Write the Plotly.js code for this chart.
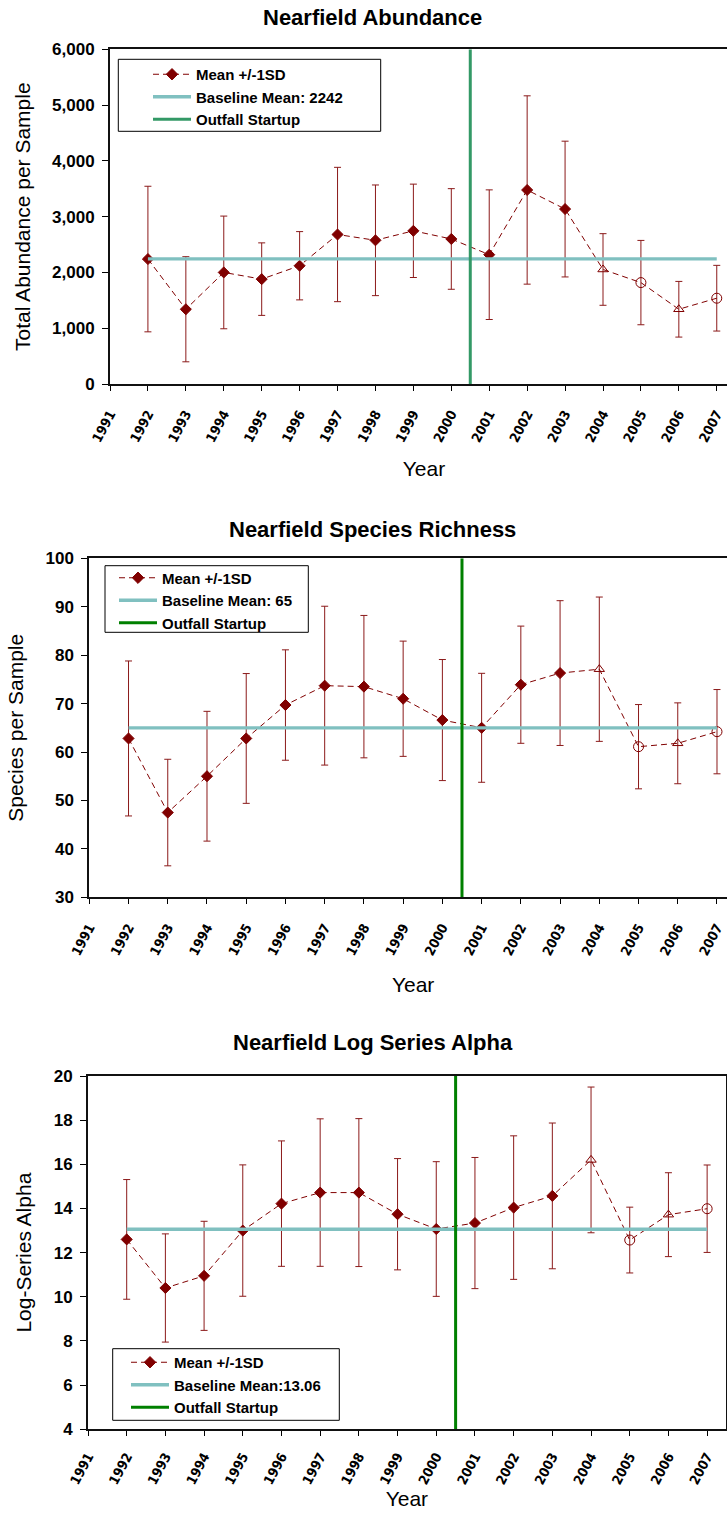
<!DOCTYPE html>
<html>
<head>
<meta charset="utf-8">
<script src="https://cdn.plot.ly/plotly-3.0.1.min.js"></script>
<style>
  html, body { margin: 0; padding: 0; overflow: hidden; background: #fff; }
  #chart { width: 740px; height: 1514px; }
</style>
</head>
<body>
<div id="chart"></div>
<script>
// ---- Data -----------------------------------------------------------------
const years = [1992, 1993, 1994, 1995, 1996, 1997, 1998, 1999, 2000,
               2001, 2002, 2003, 2004, 2005, 2006, 2007];
const yearTicks = [1991, 1992, 1993, 1994, 1995, 1996, 1997, 1998, 1999,
                   2000, 2001, 2002, 2003, 2004, 2005, 2006, 2007];
const yearTickText = yearTicks.map(String);
const outfallStartup = 2000.5;

// Total abundance per sample (mean and 1 SD)
const abundanceMean = [2240, 1340, 2000, 1880, 2120, 2680, 2576, 2746, 2600,
                       2318, 3478, 3136, 2053, 1818, 1340, 1538];
const abundanceSD   = [1305, 942, 1010, 650, 612, 1204, 992, 837, 902,
                       1162, 1688, 1217, 642, 756, 499, 589];
const abundanceBaseline = 2242;

// Species per sample
const richnessMean = [62.8, 47.5, 55.0, 62.8, 69.7, 73.7, 73.5, 71.0, 66.6,
                      65.0, 73.9, 76.3, 77.1, 61.1, 61.8, 64.2];
const richnessSD   = [16.0, 11.0, 13.4, 13.4, 11.4, 16.4, 14.7, 11.9, 12.5,
                      11.25, 12.1, 14.95, 14.9, 8.7, 8.35, 8.7];
const richnessBaseline = 65;

// Log-series alpha
const alphaMean = [12.6, 10.4, 10.95, 13.0, 14.22, 14.72, 14.72, 13.74, 13.07,
                   13.34, 14.04, 14.57, 16.2, 12.57, 13.72, 13.99];
const alphaSD   = [2.71, 2.45, 2.47, 2.975, 2.84, 3.34, 3.35, 2.52, 3.05,
                   2.97, 3.25, 3.3, 3.3, 1.49, 1.9, 1.98];
const alphaBaseline = 13.06;

// ---- Styling --------------------------------------------------------------
const W = 740, H = 1514;
const px = v => v / W;
const py = v => 1 - v / H;

const FONT = 'Liberation Sans, Arial, Helvetica, sans-serif';
const NARROW = 'Liberation Sans Narrow, Arial Narrow, DejaVu Sans Condensed, Liberation Sans, sans-serif';
const DARK_RED = '#800000';
const ERR_RED = '#8b1a1a';
const BASE_TEAL = '#80c0c0';

// Later surveys are drawn with open symbols
const laterSymbols = {2004: 'triangle-up-open', 2005: 'circle-open',
                      2006: 'triangle-up-open', 2007: 'circle-open'};
const symbols = years.map(y => laterSymbols[y] || 'diamond');
const sizes = symbols.map(s => s === 'diamond' ? 8.5 : (s === 'circle-open' ? 10 : 9));

function meanTrace(mean, sd, axisId, legendId) {
  return {
    type: 'scatter', mode: 'lines+markers',
    x: years, y: mean, name: 'Mean +/-1SD',
    xaxis: 'x' + axisId, yaxis: 'y' + axisId, legend: legendId,
    line: {color: DARK_RED, width: 1, dash: '6px,4px'},
    marker: {symbol: symbols, size: sizes, color: DARK_RED, opacity: 1,
             line: {color: DARK_RED, width: 1}},
    error_y: {type: 'data', array: sd, visible: true,
              color: ERR_RED, thickness: 1, width: 3.5},
    hoverinfo: 'skip'
  };
}
function baselineTrace(value, label, axisId, legendId) {
  return {
    type: 'scatter', mode: 'lines',
    x: [years[0], years[years.length - 1]], y: [value, value],
    name: label, xaxis: 'x' + axisId, yaxis: 'y' + axisId, legend: legendId,
    line: {color: BASE_TEAL, width: 3.3}, hoverinfo: 'skip'
  };
}
function outfallTrace(yRange, color, axisId, legendId) {
  return {
    type: 'scatter', mode: 'lines',
    x: [outfallStartup, outfallStartup], y: yRange,
    name: 'Outfall Startup', xaxis: 'x' + axisId, yaxis: 'y' + axisId,
    legend: legendId, line: {color: color, width: 3}, hoverinfo: 'skip'
  };
}

const abundRange = [0, 6000], richRange = [30, 100], alphaRange = [4, 20];

const data = [
  meanTrace(abundanceMean, abundanceSD, '', 'legend'),
  baselineTrace(abundanceBaseline, 'Baseline Mean: ' + abundanceBaseline, '', 'legend'),
  outfallTrace(abundRange, '#339966', '', 'legend'),
  meanTrace(richnessMean, richnessSD, '2', 'legend2'),
  baselineTrace(richnessBaseline, 'Baseline Mean: ' + richnessBaseline, '2', 'legend2'),
  outfallTrace(richRange, '#008000', '2', 'legend2'),
  meanTrace(alphaMean, alphaSD, '3', 'legend3'),
  baselineTrace(alphaBaseline, 'Baseline Mean:' + alphaBaseline, '3', 'legend3'),
  outfallTrace(alphaRange, '#008000', '3', 'legend3')
];

function xAxis(domain, right, anchor, standoff, labelGap) {
  return {
    domain: domain, range: [1991, right], anchor: anchor,
    tickmode: 'array', tickvals: yearTicks, ticktext: yearTickText,
    tickangle: -62, ticks: 'outside', ticklen: 5, tickwidth: 1, tickcolor: '#000',
    ticklabelstandoff: labelGap,
    tickfont: {family: NARROW, size: 13.5, color: '#000', weight: 'bold'},
    showline: true, linecolor: '#111', linewidth: 2, mirror: true,
    showgrid: false, zeroline: false, automargin: false,
    title: {text: 'Year', standoff: standoff,
            font: {family: FONT, size: 21, color: '#000'}}
  };
}
function yAxis(domain, range, dtick, anchor, title, fmt, standoff) {
  return {
    domain: domain, range: range, anchor: anchor, dtick: dtick, tick0: range[0],
    tickformat: fmt, ticks: 'outside', ticklen: 6, tickwidth: 1, tickcolor: '#000',
    ticklabelstandoff: 4,
    tickfont: {family: FONT, size: 17, color: '#000', weight: 'bold'},
    showline: true, linecolor: '#111', linewidth: 2, mirror: true,
    showgrid: false, zeroline: false, automargin: false,
    title: {text: title, standoff: standoff,
            font: {family: FONT, size: 21, color: '#000'}}
  };
}
function legendBox(x, y) {
  return {x: px(x), y: py(y), xanchor: 'left', yanchor: 'top',
          bgcolor: 'rgba(0,0,0,0)', borderwidth: 0, itemwidth: 38,
          tracegroupgap: 0,
          font: {family: FONT, size: 15, color: '#000', weight: 'bold'}};
}
function frame(x0, y0, x1, y1) {
  return {type: 'rect', xref: 'paper', yref: 'paper', layer: 'below',
          x0: px(x0), x1: px(x1), y0: py(y1), y1: py(y0),
          line: {color: '#000', width: 1}, fillcolor: '#fff'};
}
function chartTitle(text, y) {
  return {text: '<b>' + text + '</b>', xref: 'paper', yref: 'paper',
          x: px(373), y: py(y), xanchor: 'center', yanchor: 'middle',
          showarrow: false, font: {family: FONT, size: 22, color: '#000'}};
}

const layout = {
  width: W, height: H,
  margin: {l: 0, r: 0, t: 0, b: 0},
  paper_bgcolor: '#fff', plot_bgcolor: '#fff',
  showlegend: true,
  font: {family: FONT, color: '#000'},
  xaxis:  xAxis([px(110), px(738)], 2007.56, 'y', 17, 10),
  yaxis:  yAxis([py(384), py(49.3)], abundRange, 1000, 'x',
                'Total Abundance per Sample', ',d', 16),
  xaxis2: xAxis([px(89.3), px(737)], 2007.51, 'y2', 20, 10),
  yaxis2: yAxis([py(897.3), py(558.3)], richRange, 10, 'x2',
                'Species per Sample', 'd', 16),
  xaxis3: xAxis([px(88), px(725.7)], 2007.48, 'y3', 0, 7),
  yaxis3: yAxis([py(1429.3), py(1076)], alphaRange, 2, 'x3',
                'Log-Series Alpha', 'd', 16),
  legend:  legendBox(148, 58),
  legend2: legendBox(114, 561.5),
  legend3: legendBox(126, 1346),
  shapes: [
    frame(118.3, 59.3, 380.7, 131.3),
    frame(105, 565.7, 308.3, 632.3),
    frame(112.7, 1348.7, 339.3, 1420.3)
  ],
  annotations: [
    chartTitle('Nearfield Abundance', 17),
    chartTitle('Nearfield Species Richness', 529),
    chartTitle('Nearfield Log Series Alpha', 1042)
  ]
};

Plotly.newPlot('chart', data, layout, {displayModeBar: false, staticPlot: true});
</script>
</body>
</html>
